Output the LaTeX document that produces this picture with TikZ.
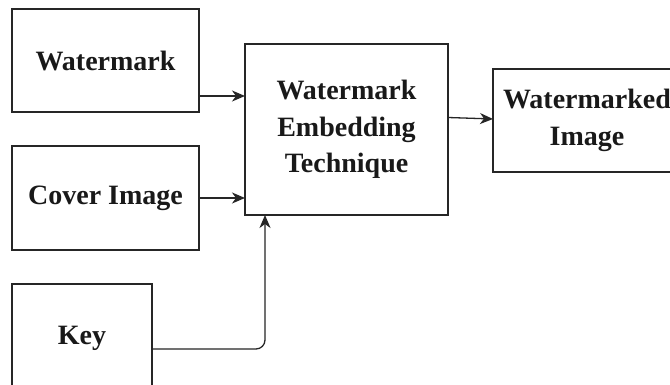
\documentclass[tikz,border=0pt]{standalone}
\usepackage{fontspec}
\setmainfont{Liberation Serif}
\usetikzlibrary{arrows.meta,calc}
\begin{document}
\begin{tikzpicture}[x=1pt,y=-1pt,
  blk/.style={draw=black!85, line width=1.3pt, fill=white, inner sep=0pt, outer sep=0pt,
    font=\fontsize{28}{36.5}\selectfont\bfseries, align=center, text=black!90},
  arr/.style={draw=black!85, line width=1.3pt, -{Stealth[length=13pt,width=11pt,inset=4pt]}}]
\useasboundingbox (0,0) rectangle (670,385);
\clip (0,0) rectangle (670,385);
\fill[white] (0,0) rectangle (670,385);

% input blocks
\node[blk, minimum width=187pt, minimum height=103pt] (wm) at (105.5,60.5) {Watermark};
\node[blk, minimum width=187pt, minimum height=104pt] (cover) at (105.5,198) {Cover Image};
\node[blk, minimum width=140pt, minimum height=108pt] (key) at (82,338) {Key};

% processing block
\node[blk, minimum width=203pt, minimum height=171pt] (main) at (346.5,129.5)
  {Watermark\\Embedding\\Technique};

% output block
\node[blk, minimum width=188pt, minimum height=103pt] (out) at (587,120.5)
  {Watermarked\\Image};

% connectors
\coordinate (w1) at ([yshift=-35.5pt]wm.east);
\draw[arr] (w1) -- (w1 -| main.west);
\draw[arr] (cover.east) -- (cover.east -| main.west);
\coordinate (k1) at ([yshift=-11pt]key.east);
\draw[arr, rounded corners=9pt] (k1) -| ([xshift=20pt]main.south west);
\draw[arr] ([yshift=12pt]main.east) -- ([yshift=1.5pt]out.west);
\end{tikzpicture}
\end{document}
